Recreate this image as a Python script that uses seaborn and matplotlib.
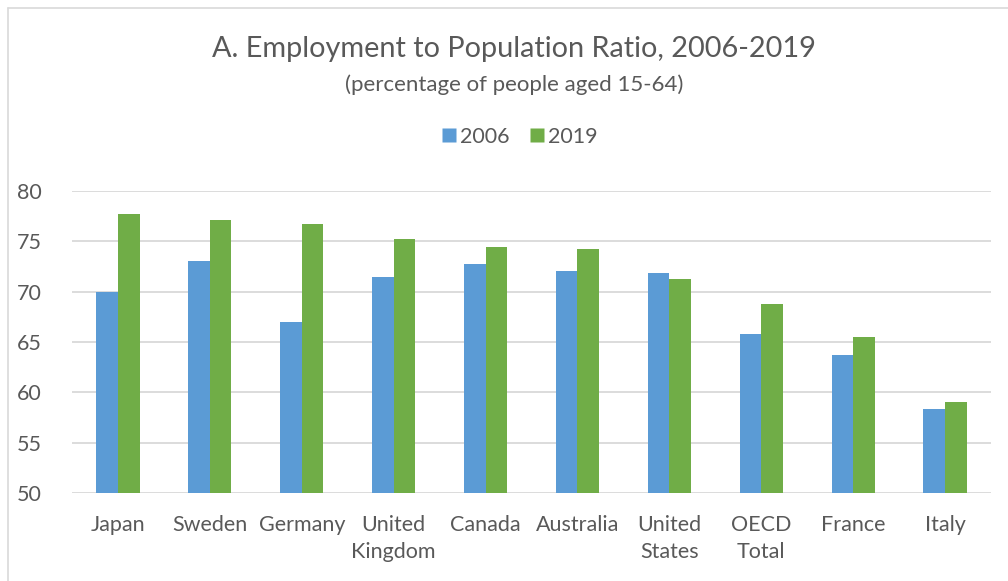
import pandas as pd
import matplotlib.pyplot as plt
import seaborn as sns
from matplotlib.lines import Line2D

countries = ["Japan", "Sweden", "Germany", "United\nKingdom", "Canada", "Australia",
             "United\nStates", "OECD\nTotal", "France", "Italy"]
ratio_2006 = [70.0, 73.0, 67.0, 71.5, 72.7, 72.1, 71.9, 65.8, 63.7, 58.3]
ratio_2019 = [77.7, 77.1, 76.7, 75.2, 74.4, 74.2, 71.3, 68.8, 65.5, 59.0]
years = ["2006", "2019"]

df = pd.DataFrame({
    "country": countries * 2,
    "value": ratio_2006 + ratio_2019,
    "year": [years[0]] * len(countries) + [years[1]] * len(countries),
})

sns.set_theme(style="white")
plt.rcParams['font.family'] = ['Lato', 'DejaVu Sans']
text_col = "#595959"
colors = ["#5B9BD5", "#70AD47"]

fig = plt.figure(figsize=(10.08, 5.81), dpi=100)
ax = fig.add_axes([72/1008, 1 - 493/581, (991 - 72)/1008, (493 - 191)/581])

sns.barplot(data=df, x="country", y="value", hue="year",
            palette=colors, saturation=1, width=0.47, ax=ax,
            edgecolor="none", legend=False)

ax.set_ylim(50, 80)
ax.set_xlim(-0.5, 9.5)
ax.set_yticks(range(50, 81, 5))
ax.set_axisbelow(True)
ax.yaxis.grid(True, color="#D9D9D9", linewidth=1.3)
for s in ax.spines.values():
    s.set_visible(False)
ax.set_xlabel("")
ax.set_ylabel("")
ax.tick_params(axis="x", length=0, pad=16, labelsize=15.5, labelcolor=text_col)
ax.tick_params(axis="y", length=0, pad=22, labelsize=15.5, labelcolor=text_col)
for lbl in ax.get_xticklabels():
    lbl.set_linespacing(1.45)

fig.text(0.51, 1 - 49/581, "A. Employment to Population Ratio, 2006-2019",
         ha="center", va="center", fontsize=20.8, color=text_col)
fig.text(0.51, 1 - 85/581, "(percentage of people aged 15-64)",
         ha="center", va="center", fontsize=16, color=text_col)

handles = [Line2D([], [], marker="s", linestyle="none", markersize=10,
                  markerfacecolor=c, markeredgecolor="none")
           for c in colors]
leg = fig.legend(handles, years, loc="center", bbox_to_anchor=(0.515, 1 - 137/581),
                 ncol=2, frameon=False, fontsize=15.5, handletextpad=0.1,
                 columnspacing=0.9, handlelength=0.8)
for t in leg.get_texts():
    t.set_color(text_col)

# thin chart border
fig.add_artist(Line2D([8/1008, 8/1008], [0, 1 - 8/581], color="#D9D9D9", linewidth=1.2))
fig.add_artist(Line2D([8/1008, 1], [1 - 8/581, 1 - 8/581], color="#D9D9D9", linewidth=1.2))

fig.savefig("out.png", dpi=100)
